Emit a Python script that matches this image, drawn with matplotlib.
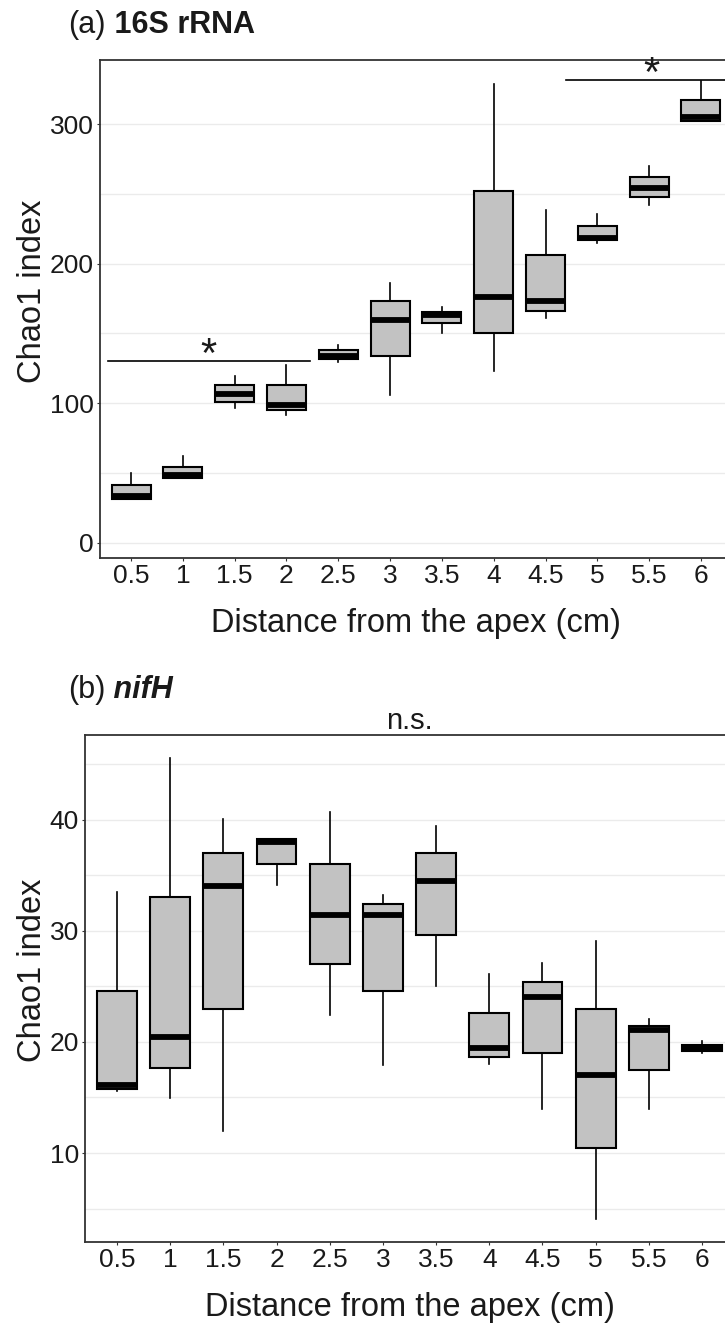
import matplotlib
matplotlib.use('Agg')
import matplotlib.pyplot as plt
import numpy as np

plt.rcParams['font.family'] = ['Liberation Sans', 'DejaVu Sans']

dist = ['0.5', '1', '1.5', '2', '2.5', '3', '3.5', '4', '4.5', '5', '5.5', '6']

# Chao1, 16S rRNA
rrna_lo  = [31.1, 46.1, 96.3, 91.5, 129.7, 105.8, 150.0, 123.3, 161.3, 215.0, 242.0, 302.4]
rrna_q1  = [31.1, 46.1, 101.0, 95.1, 131.4, 133.8, 157.2, 150.5, 166.3, 216.9, 247.5, 302.4]
rrna_med = [33.7, 48.5, 106.3, 98.7, 133.5, 159.6, 163.0, 175.8, 173.0, 218.6, 254.0, 304.8]
rrna_q3  = [41.3, 54.0, 113.0, 113.0, 138.0, 173.4, 165.0, 252.3, 206.4, 227.0, 261.8, 317.3]
rrna_hi  = [49.7, 62.4, 119.5, 127.3, 141.7, 186.3, 168.7, 328.7, 238.4, 235.3, 270.0, 331.0]

# Chao1, nifH
nif_lo  = [15.55, 14.95, 11.94, 34.1, 22.4, 17.95, 25.0, 18.0, 14.0, 4.03, 14.0, 19.0]
nif_q1  = [15.8, 17.65, 23.0, 36.0, 26.98, 24.57, 29.6, 18.62, 19.0, 10.44, 17.44, 19.16]
nif_med = [16.1, 20.4, 34.05, 37.95, 31.43, 31.43, 34.44, 19.46, 24.06, 17.05, 21.1, 19.46]
nif_q3  = [24.6, 33.0, 37.0, 38.25, 36.0, 32.4, 37.0, 22.6, 25.4, 23.0, 21.47, 19.76]
nif_hi  = [33.5, 45.5, 40.06, 38.25, 40.66, 33.23, 39.46, 26.08, 27.07, 29.08, 22.07, 20.1]

# significance brackets (x from, x to, y, label)
sig_rrna = [(0.55, 4.45, 130.2, '*'), (9.4, 12.7, 331.6, '*')]

TXT = '#1a1a1a'
W, H = 725, 1325


def draw_panel(ax, lo, q1, med, q3, hi, ylim, major, minor):
    stats = [dict(whislo=a, q1=b, med=c, q3=d, whishi=e)
             for a, b, c, d, e in zip(lo, q1, med, q3, hi)]
    pos = np.arange(1, len(stats) + 1)
    ax.set_yticks(minor, minor=True)
    ax.set_yticks(major)
    ax.grid(True, axis='y', which='both', color='#ebebeb', lw=1.0, zorder=0)
    ax.set_axisbelow(True)
    ax.bxp(stats, positions=pos, widths=0.75, showfliers=False, showcaps=False,
           patch_artist=True,
           boxprops=dict(facecolor='#c2c2c2', edgecolor='black', lw=1.5),
           whiskerprops=dict(color='black', lw=1.2),
           medianprops=dict(color='black', lw=4.2, solid_capstyle='butt'))
    ax.set_xlim(0.4, len(stats) + 0.6)
    ax.set_ylim(*ylim)
    ax.set_xticks(pos)
    ax.set_xticklabels(dist)
    for s in ax.spines.values():
        s.set_color('#333333')
        s.set_linewidth(1.3)
    ax.tick_params(axis='both', which='major', length=2.5, width=0.8, color='#333333',
                   labelsize=19, labelcolor=TXT, pad=2)
    ax.tick_params(axis='y', which='minor', length=0)
    ax.set_xlabel('Distance from the apex (cm)', fontsize=23.5, color=TXT, labelpad=14)
    ax.set_ylabel('Chao1 index', fontsize=23.5, color=TXT)
    # y label sits left of the tick labels, a little above the panel middle
    bb = ax.get_position()
    ax.yaxis.set_label_coords((48 / W - bb.x0) / bb.width, 0.536)


def panel_title(ypix, plain, bold, style='normal'):
    t = fig.text(68 / W, 1 - ypix / H, plain, fontsize=22, va='baseline', color=TXT)
    plt.annotate(bold, xy=(1, 0), xycoords=t, va='bottom', fontsize=22,
                 fontweight='bold', fontstyle=style, color=TXT, annotation_clip=False)


fig = plt.figure(figsize=(W / 100, H / 100), dpi=100)

# (a) 16S rRNA
ax1 = fig.add_axes([100 / W, 1 - 558 / H, 632 / W, 498 / H])
draw_panel(ax1, rrna_lo, rrna_q1, rrna_med, rrna_q3, rrna_hi,
           (-11, 346), [0, 100, 200, 300], [50, 150, 250])
for x0, x1, y, lab in sig_rrna:
    ax1.plot([x0, x1], [y, y], color='black', lw=1.2, clip_on=True)
    ax1.annotate(lab, xy=((x0 + x1) / 2, y), xytext=(0, -6), textcoords='offset pixels',
                 ha='center', va='baseline', fontsize=30, color=TXT)
panel_title(33, '(a)', ' 16S rRNA')

# (b) nifH
ax2 = fig.add_axes([85 / W, 1 - 1242 / H, 649 / W, 507 / H])
draw_panel(ax2, nif_lo, nif_q1, nif_med, nif_q3, nif_hi,
           (2.0, 47.6), [10, 20, 30, 40], [5, 15, 25, 35, 45])
ax2.set_title('n.s.', fontsize=21, color=TXT, pad=2)
panel_title(698, '(b)', ' nifH', style='italic')

fig.savefig('out.png', dpi=100)
